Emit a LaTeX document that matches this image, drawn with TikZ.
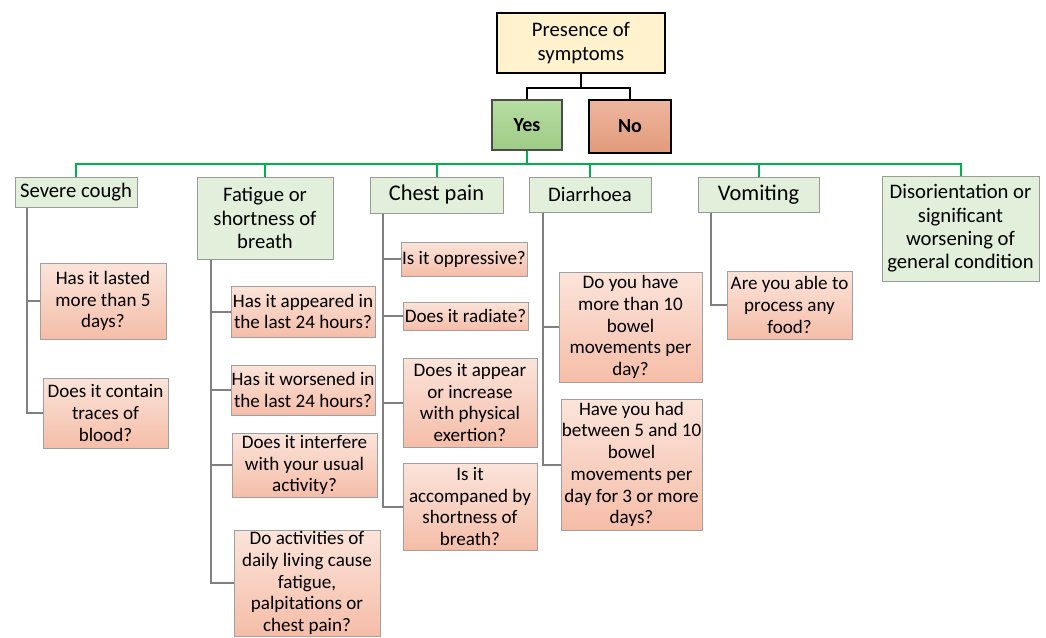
\documentclass[tikz,border=0pt]{standalone}
\usepackage{fontspec}
\setmainfont{Carlito}
\usetikzlibrary{calc}

\definecolor{topfill}{HTML}{FFF2CC}
\definecolor{yestop}{HTML}{B8DDA3}
\definecolor{yesbot}{HTML}{9DCB84}
\definecolor{notop}{HTML}{EDB69F}
\definecolor{nobot}{HTML}{E29A7A}
\definecolor{catfill}{HTML}{E2EFDA}
\definecolor{catline}{HTML}{9A9A9A}
\definecolor{asktop}{HTML}{FBE4DA}
\definecolor{askbot}{HTML}{F5BDA8}
\definecolor{askline}{HTML}{A0A0A0}
\definecolor{lgreen}{HTML}{00B050}
\definecolor{spinegrey}{HTML}{808080}

\tikzset{every picture/.style={line width=0.75pt}}
\tikzset{
  topbox/.style={draw=black,line width=1.2pt,fill=topfill,align=center,inner sep=0pt,font=\fontsize{15.5}{17.5}\selectfont},
  yesbox/.style={draw=black!70,line width=1pt,top color=yestop,bottom color=yesbot,align=center,inner sep=0pt,font=\fontsize{15}{17}\selectfont\bfseries},
  nobox/.style={draw=black,line width=1.2pt,top color=notop,bottom color=nobot,align=center,inner sep=0pt,font=\fontsize{15}{17}\selectfont\bfseries},
  catbox/.style={draw=catline,fill=catfill,align=center,inner sep=0pt,font=\fontsize{15.5}{17.5}\selectfont},
  bigcat/.style={catbox,font=\fontsize{16.8}{18}\selectfont},
  askbox/.style={draw=askline,top color=asktop,bottom color=askbot,align=center,inner sep=0pt,font=\fontsize{14.3}{16.3}\selectfont},
  blackline/.style={draw=black,line width=1.2pt},
  greenline/.style={draw=lgreen,line width=1.5pt},
  spine/.style={draw=spinegrey,line width=1.5pt}
}

\begin{document}
\begin{tikzpicture}[x=0.75pt,y=0.75pt,yscale=-1,xscale=1]
\path (0,0) rectangle (1046,637); %set diagram size

%Top of the tree
\node[topbox,minimum width=126pt,minimum height=45pt] (sympt) at (581,43) {Presence of\\symptoms};
\node[yesbox,minimum width=52.5pt,minimum height=37.5pt] (yes) at (527,125) {Yes};
\node[nobox,minimum width=61.5pt,minimum height=39.75pt] (no) at (630,126.5) {No};

\draw[blackline] (sympt.south) -- ++(0,14) -| (yes.north);
\draw[blackline] (sympt.south) -- ++(0,14) -| (no.north);

%Symptom boxes
\node[catbox,minimum width=91.5pt,minimum height=22.5pt] (cough) at (76,192) {Severe cough};
\node[catbox,minimum width=102pt,minimum height=61.5pt] (fatigue) at (265,218) {Fatigue or\\shortness of\\breath};
\node[bigcat,minimum width=99.75pt,minimum height=27pt] (chest) at (436.5,195) {Chest pain};
\node[catbox,minimum width=91.5pt,minimum height=26.25pt] (diarr) at (590,194.5) {Diarrhoea};
\node[bigcat,minimum width=90.75pt,minimum height=26.25pt] (vomit) at (758.5,194.5) {Vomiting};
\node[catbox,minimum width=117.75pt,minimum height=78.75pt] (disor) at (960.5,228.5) {Disorientation or\\significant\\worsening of\\general condition};

\foreach \cat in {cough,fatigue,chest,diarr,vomit,disor}
  \draw[greenline] (yes.south) -- ++(0,13) -| (\cat.north);

%Questions: severe cough
\node[askbox,minimum width=94.5pt,minimum height=57pt] (c1) at (103,301) {Has it lasted\\more than 5\\days?};
\node[askbox,minimum width=93.75pt,minimum height=52.5pt] (c2) at (105.5,413) {Does it contain\\traces of\\blood?};

%Questions: fatigue
\node[askbox,minimum width=108pt,minimum height=38.25pt] (f1) at (303,311.5) {Has it appeared in\\the last 24 hours?};
\node[askbox,minimum width=108pt,minimum height=37.5pt] (f2) at (303,390) {Has it worsened in\\the last 24 hours?};
\node[askbox,minimum width=108.75pt,minimum height=48pt] (f3) at (304.5,465) {Does it interfere\\with your usual\\activity?};
\node[askbox,minimum width=109.5pt,minimum height=79.5pt] (f4) at (307,583) {Do activities of\\daily living cause\\fatigue,\\palpitations or\\chest pain?};

%Questions: chest pain
\node[askbox,minimum width=94.5pt,minimum height=25.5pt] (p1) at (464,259) {Is it oppressive?};
\node[askbox,minimum width=93.75pt,minimum height=21pt] (p2) at (465.5,316) {Does it radiate?};
\node[askbox,minimum width=100.5pt,minimum height=66.75pt] (p3) at (470,402.5) {Does it appear\\or increase\\with physical\\exertion?};
\node[askbox,minimum width=100.5pt,minimum height=65.25pt] (p4) at (470,506.5) {Is it\\accompaned by\\shortness of\\breath?};

%Questions: diarrhoea
\node[askbox,minimum width=107.25pt,minimum height=82.5pt] (d1) at (630.5,327) {Do you have\\more than 10\\bowel\\movements per\\day?};
\node[askbox,minimum width=105.75pt,minimum height=98.25pt] (d2) at (631.5,464.5) {Have you had\\between 5 and 10\\bowel\\movements per\\day for 3 or more\\days?};

%Questions: vomiting
\node[askbox,minimum width=93.75pt,minimum height=51pt] (v1) at (789.5,305) {Are you able to\\process any\\food?};

%Spines
\foreach \q in {c1,c2}
  \draw[spine] ($(cough.south west)+(12,0)$) |- (\q.west);
\foreach \q in {f1,f2,f3,f4}
  \draw[spine] ($(fatigue.south west)+(14,0)$) |- (\q.west);
\foreach \q in {p1,p2,p3,p4}
  \draw[spine] ($(chest.south west)+(13,0)$) |- (\q.west);
\foreach \q in {d1,d2}
  \draw[spine] ($(diarr.south west)+(14,0)$) |- (\q.west);
\draw[spine] ($(vomit.south west)+(13,0)$) |- (v1.west);

\end{tikzpicture}
\end{document}
